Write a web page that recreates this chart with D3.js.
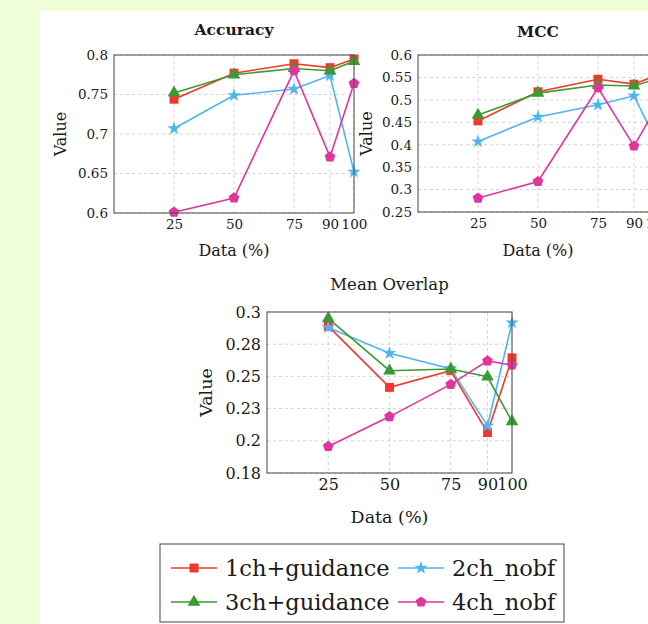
<!DOCTYPE html>
<head>
<meta charset="utf-8">
<title>Accuracy / MCC / Mean Overlap</title>
<script src="https://cdn.jsdelivr.net/npm/d3@7"></script>
<style>
  body { margin: 0; background: #effed6; }
  svg text { font-family: "DejaVu Serif", serif; fill: #1a1a1a; }
  .grid line { stroke: #c8c8c8; stroke-dasharray: 3,3; stroke-width: 0.8; }
</style>
</head>

<body>
<script>
var width = 648;
var height = 624;

// data
var dataPct = [25, 50, 75, 90, 100];
var seriesNames = ["1ch+guidance", "2ch_nobf", "3ch+guidance", "4ch_nobf"];

var acc1ch = [0.744, 0.777, 0.789, 0.784, 0.795];
var acc2ch = [0.707, 0.749, 0.757, 0.774, 0.652];
var acc3ch = [0.752, 0.775, 0.783, 0.780, 0.792];
var acc4ch = [0.601, 0.619, 0.780, 0.671, 0.764];

var mcc1ch = [0.453, 0.518, 0.546, 0.535, 0.556];
var mcc2ch = [0.407, 0.462, 0.489, 0.509, 0.400];
var mcc3ch = [0.466, 0.515, 0.533, 0.531, 0.548];
var mcc4ch = [0.281, 0.318, 0.527, 0.397, 0.490];

var ovl1ch = [0.289, 0.2415, 0.2544, 0.2064, 0.2644];
var ovl2ch = [0.288, 0.268, 0.256, 0.2116, 0.2918];
var ovl3ch = [0.295, 0.2544, 0.2557, 0.2497, 0.215];
var ovl4ch = [0.1956, 0.2188, 0.2438, 0.262, 0.2588];

var xTicks = [25, 50, 75, 90, 100];
var accTicks = [0.6, 0.65, 0.7, 0.75, 0.8];
var accTickLabels = ["0.6", "0.65", "0.7", "0.75", "0.8"];
var mccTicks = [0.25, 0.3, 0.35, 0.4, 0.45, 0.5, 0.55, 0.6];
var mccTickLabels = ["0.25", "0.3", "0.35", "0.4", "0.45", "0.5", "0.55", "0.6"];
var ovlTicks = [0.175, 0.2, 0.225, 0.25, 0.275, 0.3];
var ovlTickLabels = ["0.18", "0.2", "0.23", "0.25", "0.28", "0.3"];

var colors = ["#f2382c", "#4cb5f2", "#3c9a35", "#e0359b"];

// pentagon symbol
var symbolPentagon = {
  draw: function(context, size) {
    var r = Math.sqrt(size / 2.378);
    for (var i = 0; i < 5; i++) {
      var a = -Math.PI / 2 + i * 2 * Math.PI / 5;
      if (i === 0) context.moveTo(r * Math.cos(a), r * Math.sin(a));
      else context.lineTo(r * Math.cos(a), r * Math.sin(a));
    }
    context.closePath();
  }
};
var symbols = [
  d3.symbol().type(d3.symbolSquare).size(80),
  d3.symbol().type(d3.symbolStar).size(55),
  d3.symbol().type(d3.symbolTriangle).size(70),
  d3.symbol().type(symbolPentagon).size(75)
];

var svg = d3.select("body").append("svg")
  .attr("width", width)
  .attr("height", height);

// white page
svg.append("rect")
  .attr("x", 40).attr("y", 11)
  .attr("width", width - 40).attr("height", height - 11)
  .style("fill", "white");

function drawPanel(p) {
  var x = d3.scaleLinear().domain([0, 100]).range([p.left, p.right]);
  var y = d3.scaleLinear().domain(p.yDomain).range([p.bottom, p.top]);
  var g = svg.append("g");

  // grid
  var grid = g.append("g").attr("class", "grid");
  grid.selectAll(".gx").data(xTicks).enter().append("line")
    .attr("x1", function(d) { return x(d); }).attr("x2", function(d) { return x(d); })
    .attr("y1", p.top).attr("y2", p.bottom);
  grid.selectAll(".gy").data(p.yTicks).enter().append("line")
    .attr("x1", p.left).attr("x2", p.right)
    .attr("y1", function(d) { return y(d); }).attr("y2", function(d) { return y(d); });

  // axes (labels only, frame drawn separately)
  var xAxis = d3.axisBottom(x).tickValues(xTicks).tickSize(0).tickPadding(p.tickPad);
  var yAxis = d3.axisLeft(y).tickValues(p.yTicks).tickSize(0).tickPadding(p.tickPad)
    .tickFormat(function(d, i) { return p.yLabels[i]; });
  var gx = g.append("g").attr("transform", "translate(0," + p.bottom + ")").call(xAxis);
  var gy = g.append("g").attr("transform", "translate(" + p.left + ",0)").call(yAxis);
  [gx, gy].forEach(function(a) {
    a.select(".domain").remove();
    a.selectAll("text").style("font-size", p.tickSize + "px")
      .style("font-family", "DejaVu Serif").style("fill", "#1a1a1a");
  });

  // series
  var line = d3.line()
    .x(function(d, i) { return x(dataPct[i]); })
    .y(function(d) { return y(d); });
  p.series.forEach(function(vals, k) {
    g.append("path").datum(vals)
      .attr("d", line)
      .style("fill", "none")
      .style("stroke", colors[k])
      .style("stroke-width", 1.6);
    g.selectAll(".m" + k).data(vals).enter().append("path")
      .attr("transform", function(d, i) { return "translate(" + x(dataPct[i]) + "," + y(d) + ")"; })
      .attr("d", symbols[k])
      .style("fill", colors[k]);
  });

  // frame
  g.append("rect")
    .attr("x", p.left).attr("y", p.top)
    .attr("width", p.right - p.left).attr("height", p.bottom - p.top)
    .style("fill", "none").style("stroke", "#555").style("stroke-width", 1.1);

  // titles
  g.append("text")
    .attr("x", (p.left + p.right) / 2).attr("y", p.titleY)
    .attr("text-anchor", "middle")
    .style("font-size", p.titleSize + "px")
    .style("font-weight", p.titleWeight)
    .text(p.title);
  g.append("text")
    .attr("x", (p.left + p.right) / 2).attr("y", p.xLabelY)
    .attr("text-anchor", "middle")
    .style("font-size", p.labelSize + "px")
    .text("Data (%)");
  g.append("text")
    .attr("transform", "translate(" + p.yLabelX + "," + (p.top + p.bottom) / 2 + ") rotate(-90)")
    .attr("text-anchor", "middle")
    .style("font-size", p.labelSize + "px")
    .text("Value");
}

drawPanel({
  left: 114, right: 354, top: 55, bottom: 213,
  yDomain: [0.6, 0.8], yTicks: accTicks, yLabels: accTickLabels,
  series: [acc1ch, acc2ch, acc3ch, acc4ch],
  title: "Accuracy", titleY: 35, titleSize: 15.5, titleWeight: "bold",
  xLabelY: 256, yLabelX: 66, labelSize: 16, tickSize: 13.5, tickPad: 6
});

drawPanel({
  left: 418, right: 658, top: 55, bottom: 212,
  yDomain: [0.25, 0.6], yTicks: mccTicks, yLabels: mccTickLabels,
  series: [mcc1ch, mcc2ch, mcc3ch, mcc4ch],
  title: "MCC", titleY: 37, titleSize: 15.5, titleWeight: "bold",
  xLabelY: 256, yLabelX: 372, labelSize: 16, tickSize: 13.5, tickPad: 6
});

drawPanel({
  left: 267, right: 512, top: 312, bottom: 473,
  yDomain: [0.175, 0.3], yTicks: ovlTicks, yLabels: ovlTickLabels,
  series: [ovl1ch, ovl2ch, ovl3ch, ovl4ch],
  title: "Mean Overlap", titleY: 290, titleSize: 16.5, titleWeight: "normal",
  xLabelY: 523, yLabelX: 212, labelSize: 17.5, tickSize: 16, tickPad: 6
});

// legend
var legend = svg.append("g");
legend.append("rect")
  .attr("x", 160).attr("y", 544).attr("width", 404).attr("height", 78)
  .style("fill", "white").style("stroke", "#555").style("stroke-width", 1.1);

var legendCols = [171, 398];
var legendRows = [568, 602];
seriesNames.forEach(function(name, k) {
  var lx = legendCols[k % 2];
  var ly = legendRows[Math.floor(k / 2)];
  legend.append("line")
    .attr("x1", lx).attr("x2", lx + 46)
    .attr("y1", ly).attr("y2", ly)
    .style("stroke", colors[k]).style("stroke-width", 1.6);
  legend.append("path")
    .attr("transform", "translate(" + (lx + 23) + "," + ly + ")")
    .attr("d", symbols[k])
    .style("fill", colors[k]);
  legend.append("text")
    .attr("x", lx + 54).attr("y", ly + 8)
    .style("font-size", "22.5px")
    .text(name);
});
</script>
</body>
